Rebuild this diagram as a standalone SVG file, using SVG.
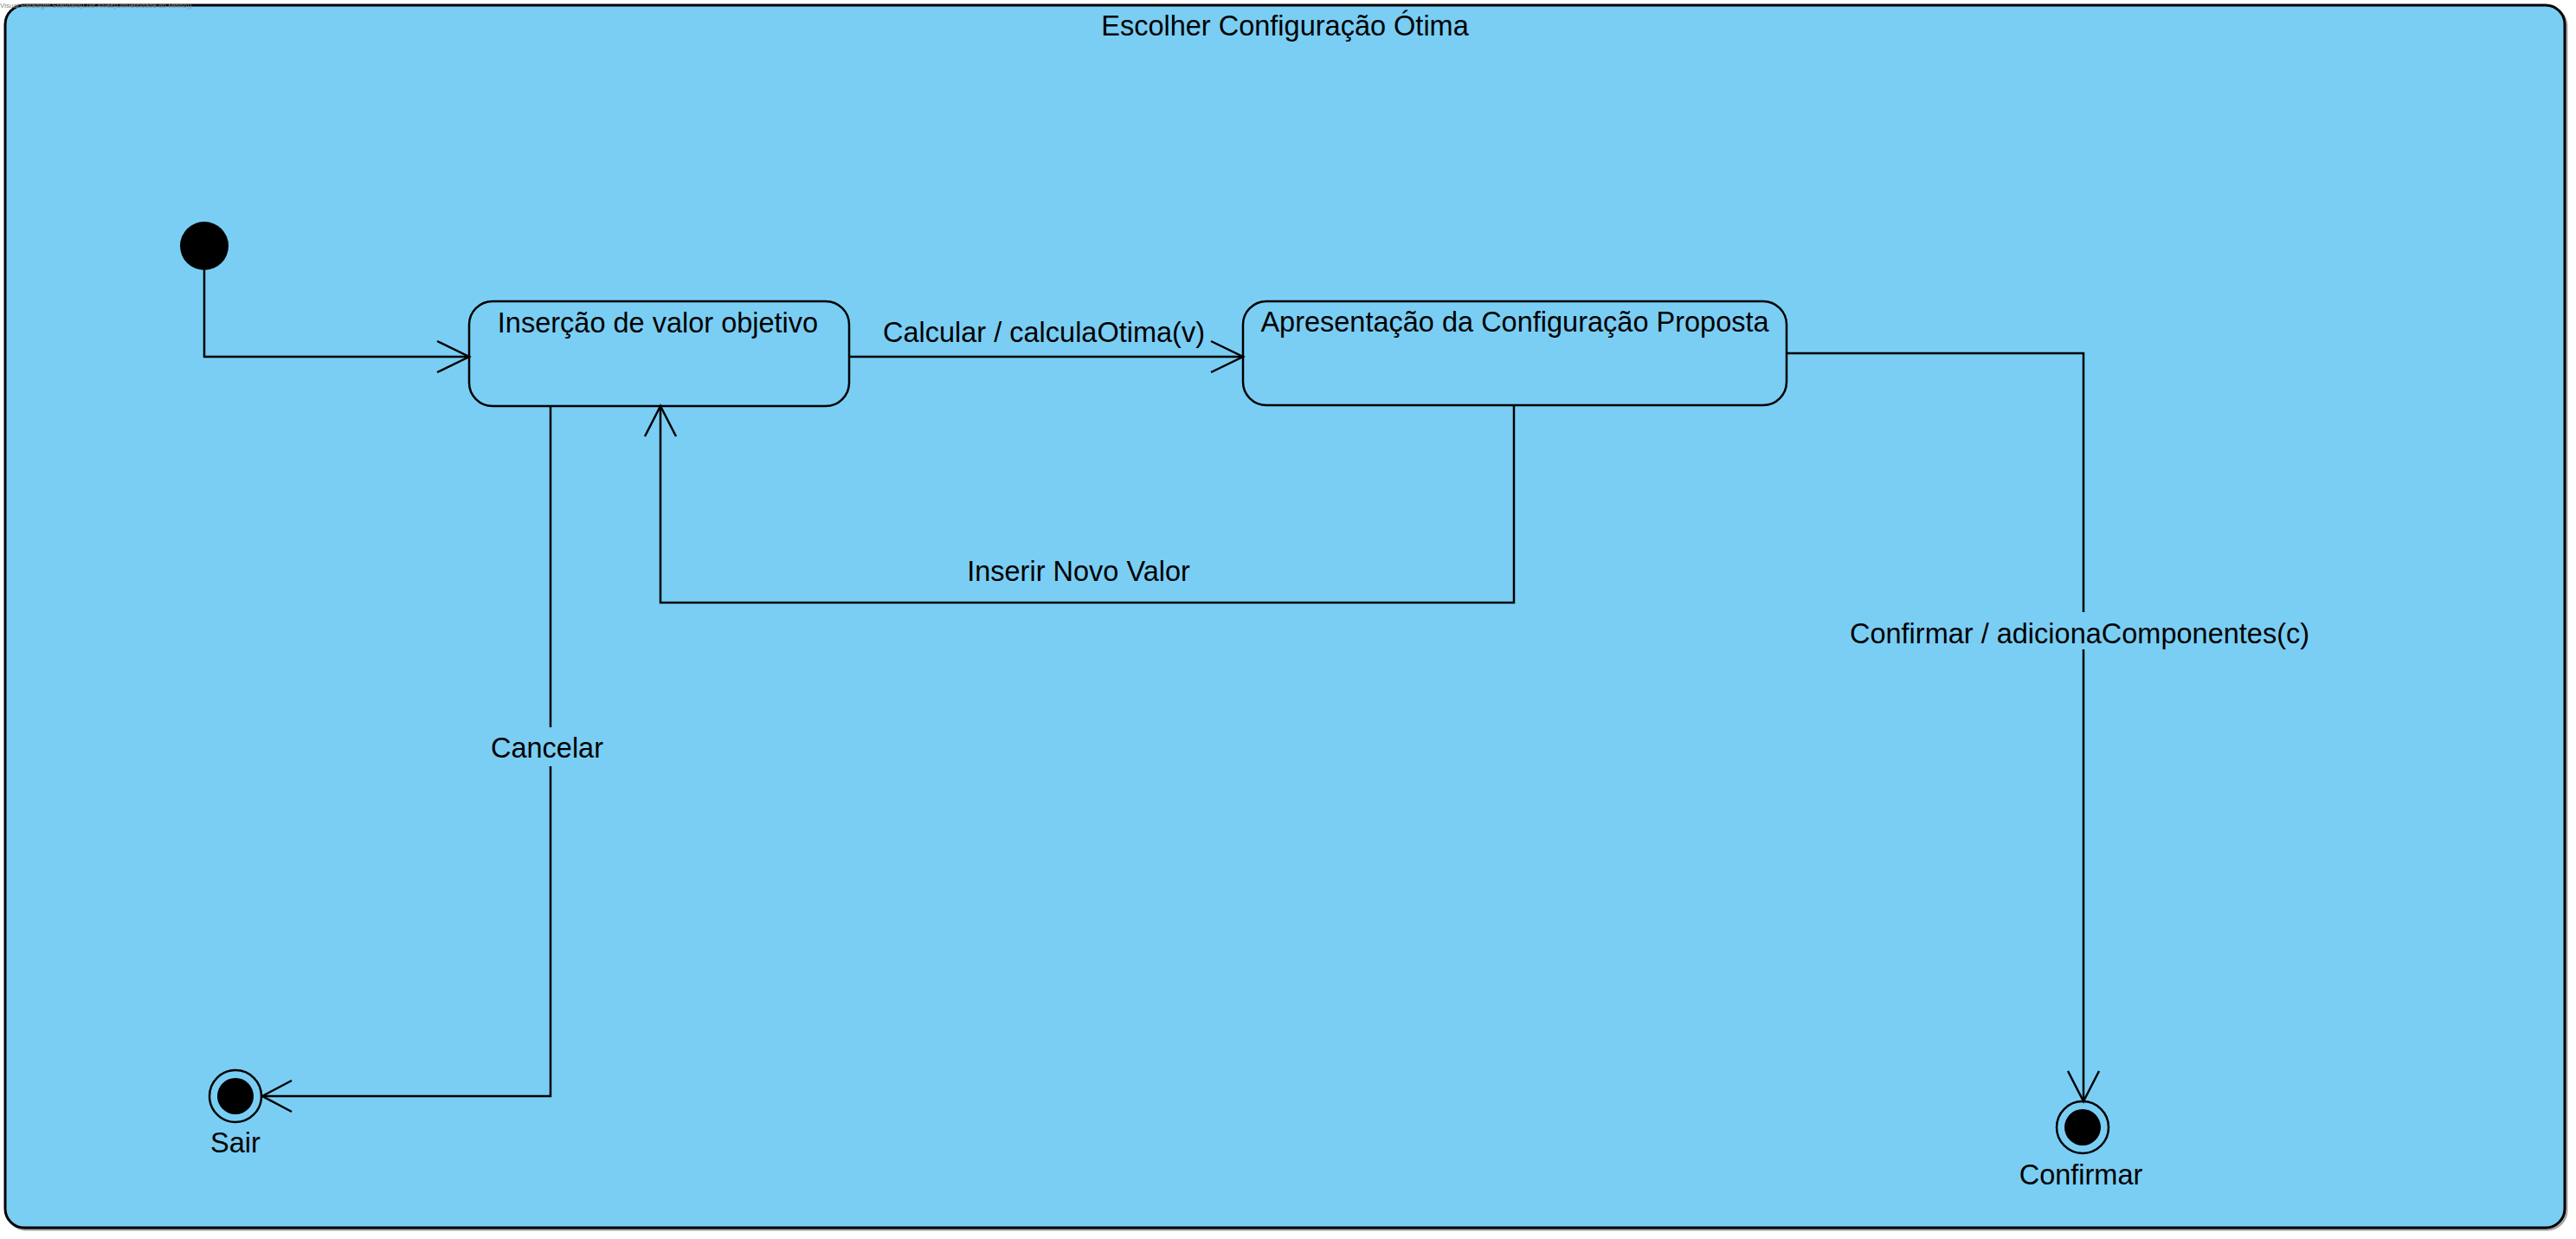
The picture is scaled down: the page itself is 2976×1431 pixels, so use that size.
<svg xmlns="http://www.w3.org/2000/svg" width="2976" height="1431" viewBox="0 0 2976 1431">
<style>
text{font-family:"Liberation Sans",Arial,sans-serif;fill:#000}
.lbl{font-size:32.5px;text-anchor:middle}
.st{fill:#7ACEF4;stroke:#000;stroke-width:2.5}
.ln{fill:none;stroke:#000;stroke-width:2.5;stroke-linejoin:miter}
.ah{fill:none;stroke:#000;stroke-width:2.5}
.bg{fill:#7ACEF4;stroke:none}
</style>
<rect width="2976" height="1431" fill="#ffffff"/>
<g id="frame">
<rect x="8" y="8" width="2957" height="1412" rx="22" fill="none" stroke="#000" stroke-opacity="0.35" stroke-width="3"/>
<rect x="6" y="6" width="2957" height="1412" rx="22" fill="#7ACEF4" stroke="#000" stroke-width="3"/>
<text class="lbl" x="1484.5" y="41">Escolher Configuração Ótima</text>
</g>
<g id="initial">
<circle cx="236" cy="284" r="28" fill="#000"/>
</g>
<g id="state1">
<rect class="st" x="542" y="348" width="439" height="121" rx="27"/>
<text class="lbl" x="760" y="384">Inserção de valor objetivo</text>
</g>
<g id="state2">
<rect class="st" x="1436" y="348" width="628" height="120" rx="27"/>
<text class="lbl" x="1750" y="383">Apresentação da Configuração Proposta</text>
</g>
<g id="final-sair">
<circle cx="272" cy="1266" r="30" fill="none" stroke="#000" stroke-width="2.5"/>
<circle cx="272" cy="1266" r="21" fill="#000"/>
<text class="lbl" x="272" y="1331">Sair</text>
</g>
<g id="final-confirmar">
<circle cx="2406" cy="1302" r="30" fill="none" stroke="#000" stroke-width="2.5"/>
<circle cx="2406" cy="1302" r="21" fill="#000"/>
<text class="lbl" x="2404" y="1368">Confirmar</text>
</g>
<g id="connectors">
<polyline class="ln" points="236,312 236,412 542,412"/>
<polyline class="ah" points="505,394 542,412 505,430"/>
<line class="ln" x1="981" y1="412" x2="1436" y2="412"/>
<polyline class="ah" points="1399,394 1436,412 1399,430"/>
<text class="lbl" x="1206" y="395">Calcular / calculaOtima(v)</text>
<polyline class="ln" points="1749,468 1749,696 763,696 763,469"/>
<polyline class="ah" points="745,504 763,469 781,504"/>
<text class="lbl" x="1246" y="671">Inserir Novo Valor</text>
<polyline class="ln" points="636,469 636,1266 303,1266"/>
<polyline class="ah" points="337,1248 303,1266 337,1284"/>
<rect class="bg" x="564" y="840" width="136" height="45"/>
<text class="lbl" x="632" y="875">Cancelar</text>
<polyline class="ln" points="2064,408 2407,408 2407,1272"/>
<polyline class="ah" points="2389,1237 2407,1272 2425,1237"/>
<rect class="bg" x="2128" y="707" width="549" height="43"/>
<text class="lbl" x="2402.5" y="743">Confirmar / adicionaComponentes(c)</text>
</g>
<text x="0" y="9" style="font-size:8px;fill:#8a8a8a">Visual Paradigm Standard(Luis Alves(Universidade do Minho))</text>
</svg>
